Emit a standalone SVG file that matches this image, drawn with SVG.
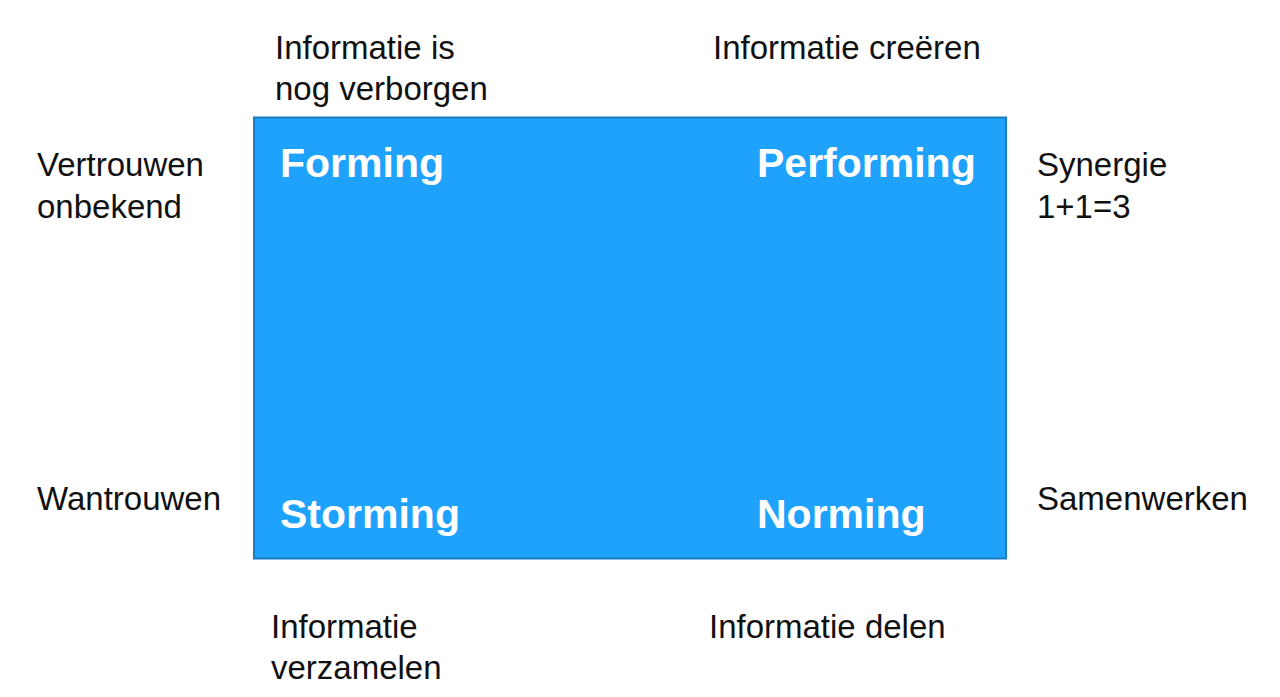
<svg xmlns="http://www.w3.org/2000/svg" width="1280" height="697" viewBox="0 0 1280 697">
<style>
.lbl{font-family:"Liberation Sans",Arial,sans-serif;font-size:33px;fill:#111}
.stage{font-family:"Liberation Sans",Arial,sans-serif;font-size:41px;font-weight:bold;fill:#fff}
</style>
<rect width="1280" height="697" fill="#fff"/>
<g id="matrix">
<rect x="254" y="117.5" width="752" height="441" fill="#1FA2FC" stroke="#1A7DC2" stroke-width="2"/>
</g>
<g id="forming"><text class="stage" x="280" y="177">Forming</text></g>
<g id="performing"><text class="stage" x="757" y="177">Performing</text></g>
<g id="storming"><text class="stage" x="280" y="528">Storming</text></g>
<g id="norming"><text class="stage" x="757" y="528">Norming</text></g>
<g id="top-left"><text class="lbl" x="275" y="59">Informatie is</text><text class="lbl" x="275" y="100">nog verborgen</text></g>
<g id="top-right"><text class="lbl" x="713" y="59">Informatie creëren</text></g>
<g id="left-top"><text class="lbl" x="37" y="176">Vertrouwen</text><text class="lbl" x="37" y="218">onbekend</text></g>
<g id="right-top"><text class="lbl" x="1037" y="176">Synergie</text><text class="lbl" x="1037" y="218">1+1=3</text></g>
<g id="left-bottom"><text class="lbl" x="37" y="510">Wantrouwen</text></g>
<g id="right-bottom"><text class="lbl" x="1037" y="510">Samenwerken</text></g>
<g id="bottom-left"><text class="lbl" x="271" y="638">Informatie</text><text class="lbl" x="271" y="679">verzamelen</text></g>
<g id="bottom-right"><text class="lbl" x="709" y="638">Informatie delen</text></g>
<g id="connectors"></g>
</svg>
